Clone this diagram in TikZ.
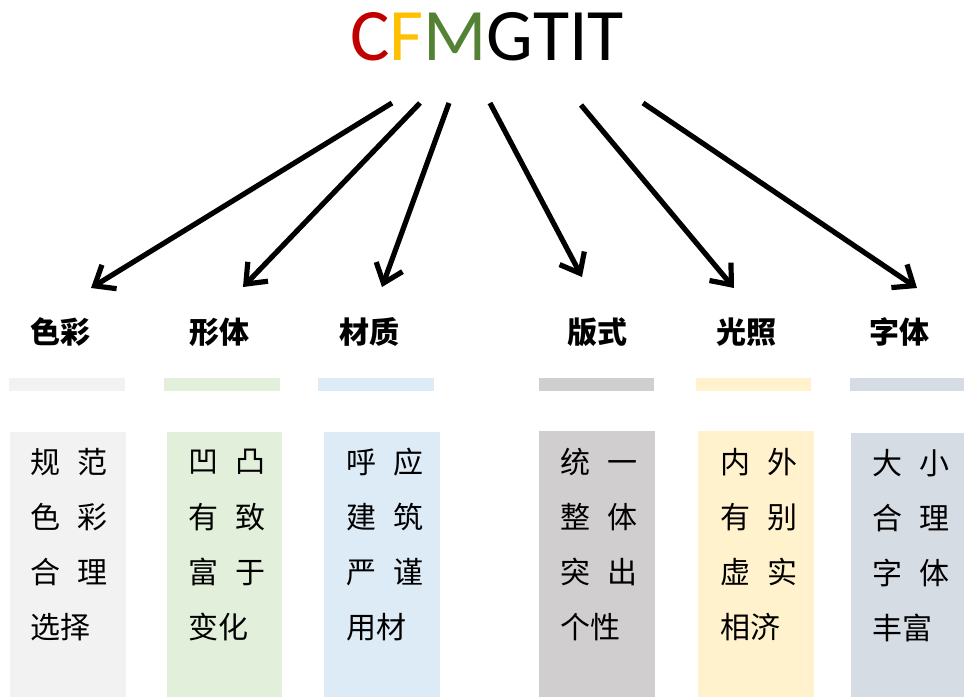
\documentclass[tikz,border=0pt]{standalone}
\usepackage{fontspec}
\setmainfont{Noto Sans CJK SC}
\newfontfamily\titlefont{Carlito}
\usetikzlibrary{arrows.meta}
\definecolor{cA}{HTML}{F2F2F2}
\definecolor{cB}{HTML}{E2EFDA}
\definecolor{cC}{HTML}{DDEBF7}
\definecolor{cD}{HTML}{D0CECE}
\definecolor{cE}{HTML}{FFF2CC}
\definecolor{cF}{HTML}{D6DCE4}
\definecolor{tRed}{HTML}{C00000}
\definecolor{tYel}{HTML}{FFC000}
\definecolor{tGrn}{HTML}{548235}
\newcommand\cgap{\hspace{12.75pt}}
\begin{document}
\begin{tikzpicture}[x=0.75pt,y=-0.75pt,
  headtxt/.style={font=\bfseries\fontsize{22.5pt}{27pt}\selectfont, inner sep=0pt},
  bodytxt/.style={font=\fontsize{22.5pt}{27pt}\selectfont, anchor=west, inner sep=0pt},
  arr/.style={line width=3.9pt, -{Straight Barb[length=13pt,width=21pt]}}]
\useasboundingbox (0,0) rectangle (964,697);
% title
\node[inner sep=0pt, font=\titlefont\fontsize{55.5pt}{58pt}\selectfont] (title) at (487,37)
  {\textcolor{tRed}{C}\textcolor{tYel}{F}\textcolor{tGrn}{M}GTIT};
% bars
\fill[cA] (9,378) rectangle (125,391);
\fill[cB] (164,378) rectangle (280,391);
\fill[cC] (318,378) rectangle (434,391);
\fill[cD] (539,378) rectangle (654,391);
\fill[cE] (696,378) rectangle (811,391);
\fill[cF] (850,378) rectangle (964,391);
% boxes
\fill[cA] (10,432) rectangle (126,697);
\fill[cB] (167,432) rectangle (282,697);
\fill[cC] (324,432) rectangle (440,697);
\fill[cD] (539,431) rectangle (655,697);
\fill[cE] (698,431) rectangle (814,697);
\fill[cF] (851,433) rectangle (964,697);
% headers
\node[headtxt] (h1) at (61,332) {色彩};
\node[headtxt] (h2) at (219,332) {形体};
\node[headtxt] (h3) at (369,332) {材质};
\node[headtxt] (h4) at (597,332) {版式};
\node[headtxt] (h5) at (746,332) {光照};
\node[headtxt] (h6) at (899,332) {字体};
% body texts
\node[bodytxt] (a1) at (30,462) {规\cgap 范};
\node[bodytxt] (a2) at (30,517) {色\cgap 彩};
\node[bodytxt] (a3) at (30,572) {合\cgap 理};
\node[bodytxt] (a4) at (30,627) {选择};
\node[bodytxt] (b1) at (188,462) {凹\cgap 凸};
\node[bodytxt] (b2) at (188,517) {有\cgap 致};
\node[bodytxt] (b3) at (188,572) {富\cgap 于};
\node[bodytxt] (b4) at (188,627) {变化};
\node[bodytxt] (c1) at (346,462) {呼\cgap 应};
\node[bodytxt] (c2) at (346,517) {建\cgap 筑};
\node[bodytxt] (c3) at (346,572) {严\cgap 谨};
\node[bodytxt] (c4) at (346,627) {用材};
\node[bodytxt] (d1) at (560,462) {统\cgap 一};
\node[bodytxt] (d2) at (560,517) {整\cgap 体};
\node[bodytxt] (d3) at (560,572) {突\cgap 出};
\node[bodytxt] (d4) at (560,627) {个性};
\node[bodytxt] (e1) at (720,462) {内\cgap 外};
\node[bodytxt] (e2) at (720,517) {有\cgap 别};
\node[bodytxt] (e3) at (720,572) {虚\cgap 实};
\node[bodytxt] (e4) at (720,627) {相济};
\node[bodytxt] (f1) at (872,463) {大\cgap 小};
\node[bodytxt] (f2) at (872,518) {合\cgap 理};
\node[bodytxt] (f3) at (872,573) {字\cgap 体};
\node[bodytxt] (f4) at (872,628) {丰富};
% arrow end points
\coordinate (s1) at (392,103); \coordinate (t1) at (91,288);
\coordinate (s2) at (420,103); \coordinate (t2) at (243,287);
\coordinate (s3) at (449,103); \coordinate (t3) at (382,287);
\coordinate (s4) at (490,103); \coordinate (t4) at (582,277);
\coordinate (s5) at (581,105); \coordinate (t5) at (734,288);
\coordinate (s6) at (643,103); \coordinate (t6) at (917,288);
\foreach \i in {1,...,6} {\draw[arr] (s\i) -- (t\i);}
\end{tikzpicture}
\end{document}
